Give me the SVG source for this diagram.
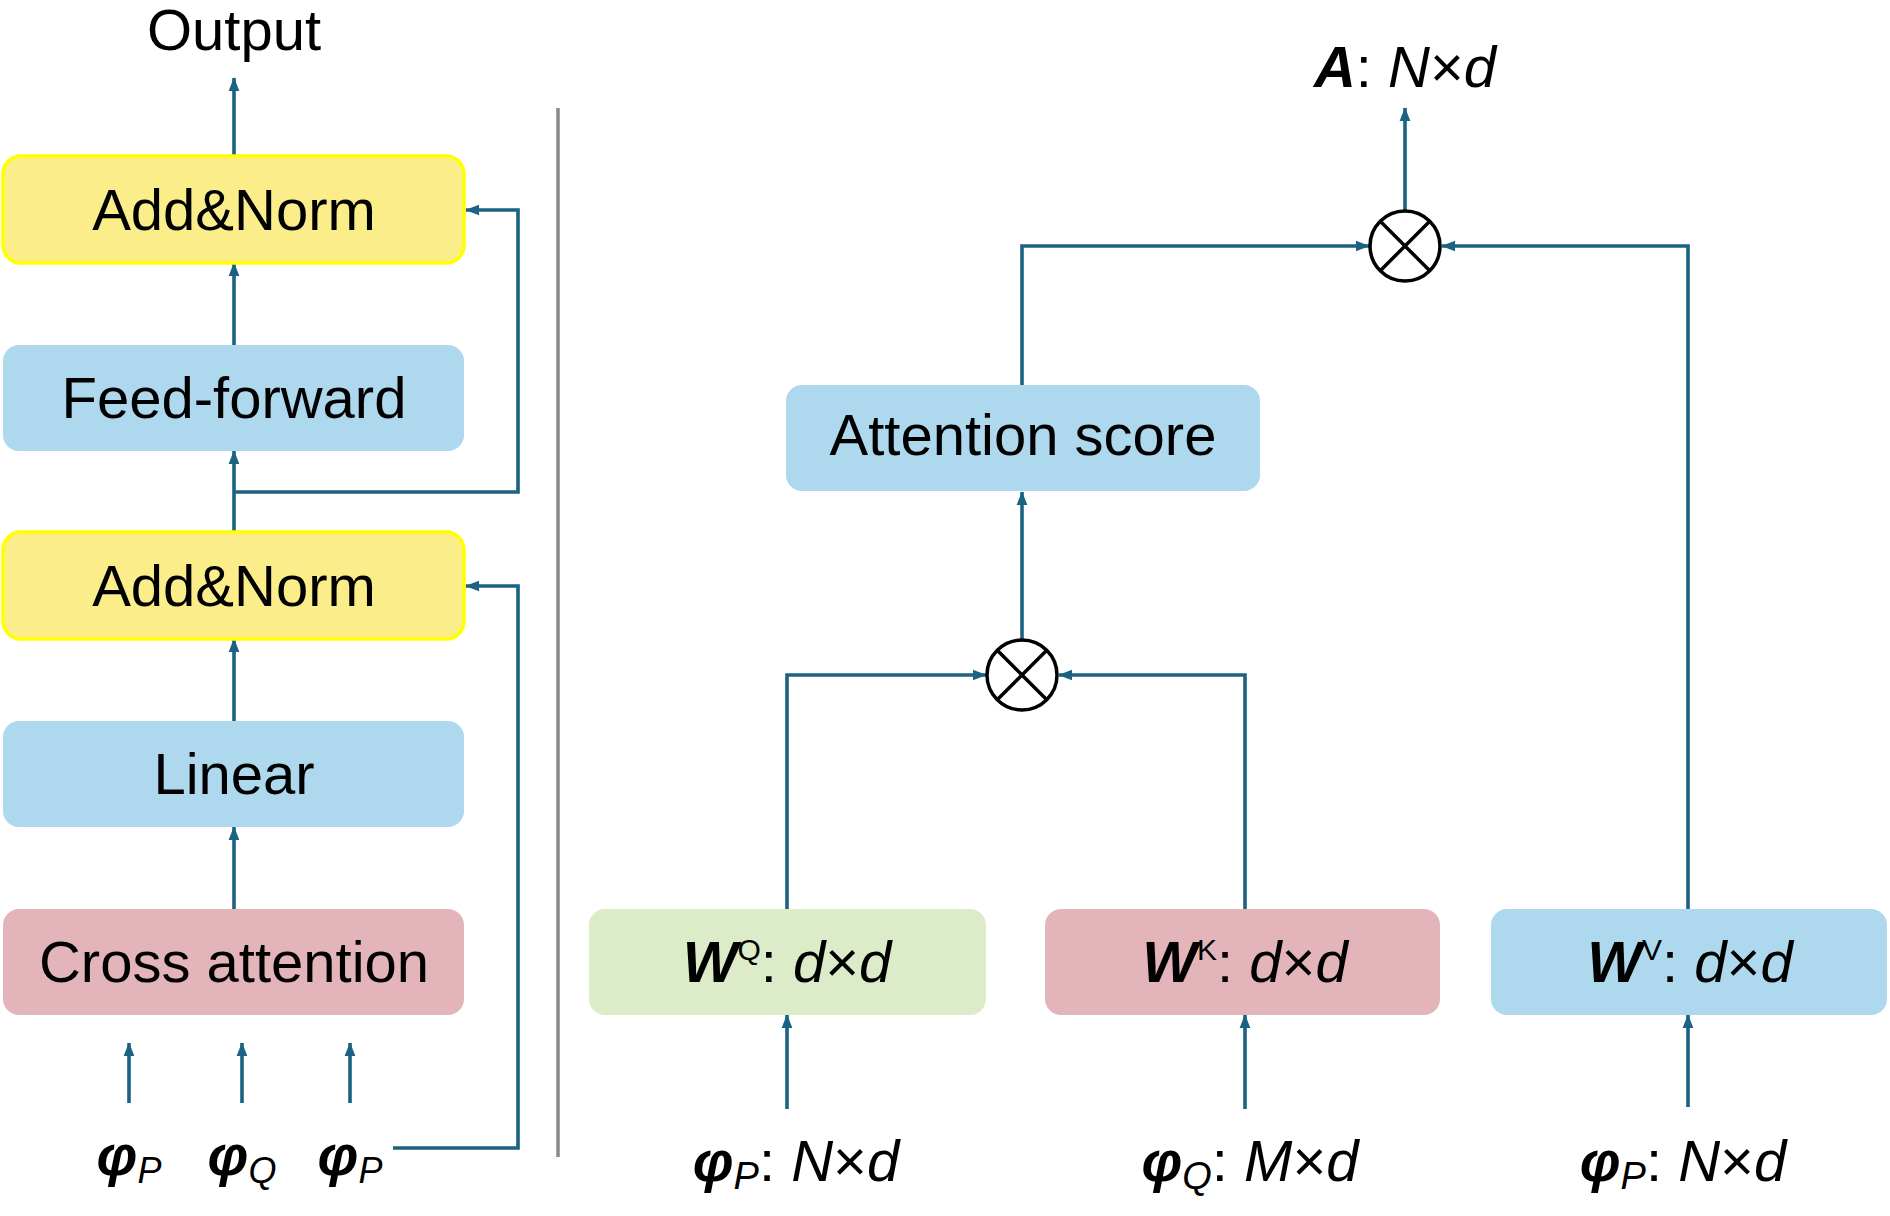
<svg xmlns="http://www.w3.org/2000/svg" width="1890" height="1216" viewBox="0 0 1890 1216">
<style>
text{font-family:"Liberation Sans",Arial,sans-serif;fill:#000}
.t{font-size:58px;text-anchor:middle}
.c{fill:none;stroke:#1b6283;stroke-width:3.6}
.y{fill:#fbee8a;stroke:#ffff00;stroke-width:3.5}
.b{fill:#add8ed}.p{fill:#e3b5bb}.g{fill:#dcebc8}
.o{fill:#fff;stroke:#000;stroke-width:3.5}
.bi{font-weight:bold;font-style:italic}.i{font-style:italic}
</style>
<defs>
<marker id="a" markerUnits="userSpaceOnUse" markerWidth="14" markerHeight="18" refX="17" refY="7" orient="auto" viewBox="0 0 18 14"><path d="M0,0L18,7L0,14z" fill="#1b6283"/></marker>
</defs>
<line x1="558" y1="108" x2="558" y2="1157" stroke="#8a8a8a" stroke-width="3.5"/>
<g id="connectors">
<path class="c" d="M234,155V78" marker-end="url(#a)"/>
<path class="c" d="M234,345V263" marker-end="url(#a)"/>
<path class="c" d="M234,532V451" marker-end="url(#a)"/>
<path class="c" d="M234,492H518V210H466" marker-end="url(#a)"/>
<path class="c" d="M234,721V639" marker-end="url(#a)"/>
<path class="c" d="M234,909V827" marker-end="url(#a)"/>
<path class="c" d="M393,1148H518V586H466" marker-end="url(#a)"/>
<path class="c" d="M129,1103V1043" marker-end="url(#a)"/>
<path class="c" d="M242,1103V1043" marker-end="url(#a)"/>
<path class="c" d="M350,1103V1043" marker-end="url(#a)"/>
<path class="c" d="M1405,210V108" marker-end="url(#a)"/>
<path class="c" d="M1022,385V246H1369" marker-end="url(#a)"/>
<path class="c" d="M1688,909V246H1442" marker-end="url(#a)"/>
<path class="c" d="M1022,639V492" marker-end="url(#a)"/>
<path class="c" d="M787,909V675H986" marker-end="url(#a)"/>
<path class="c" d="M1245,909V675H1059" marker-end="url(#a)"/>
<path class="c" d="M787,1109V1015" marker-end="url(#a)"/>
<path class="c" d="M1245,1109V1015" marker-end="url(#a)"/>
<path class="c" d="M1688,1107V1015" marker-end="url(#a)"/>
</g>
<g id="output"><text class="t" x="234" y="50" font-size="56">Output</text></g>
<g id="addnorm2"><rect class="y" x="3" y="156" width="461" height="107" rx="18"/><text class="t" x="234" y="230">Add&amp;Norm</text></g>
<g id="feedforward"><rect class="b" x="3" y="345" width="461" height="106" rx="16"/><text class="t" x="234" y="418">Feed-forward</text></g>
<g id="addnorm1"><rect class="y" x="3" y="532" width="461" height="107" rx="18"/><text class="t" x="234" y="606">Add&amp;Norm</text></g>
<g id="linear"><rect class="b" x="3" y="721" width="461" height="106" rx="16"/><text class="t" x="234" y="794">Linear</text></g>
<g id="cross"><rect class="p" x="3" y="909" width="461" height="106" rx="16"/><text class="t" x="234" y="982">Cross attention</text></g>
<g id="in1"><text class="t" x="129" y="1175" font-size="52"><tspan class="bi">φ</tspan><tspan class="i" font-size="36" dy="8">P</tspan></text></g>
<g id="in2"><text class="t" x="242" y="1175" font-size="52"><tspan class="bi">φ</tspan><tspan class="i" font-size="36" dy="8">Q</tspan></text></g>
<g id="in3"><text class="t" x="350" y="1175" font-size="52"><tspan class="bi">φ</tspan><tspan class="i" font-size="36" dy="8">P</tspan></text></g>
<g id="A"><text class="t" x="1405" y="87" font-size="56"><tspan class="bi">A</tspan>: <tspan class="i">N</tspan>×<tspan class="i">d</tspan></text></g>
<g id="mul2"><circle class="o" cx="1405" cy="246" r="35"/><path d="M1380,221L1430,271M1430,221L1380,271" stroke="#000" stroke-width="3.5"/></g>
<g id="score"><rect class="b" x="786" y="385" width="474" height="106" rx="16"/><text class="t" x="1023" y="455">Attention score</text></g>
<g id="mul1"><circle class="o" cx="1022" cy="675" r="35"/><path d="M997,650L1047,700M1047,650L997,700" stroke="#000" stroke-width="3.5"/></g>
<g id="wq"><rect class="g" x="589" y="909" width="397" height="106" rx="16"/><text class="t" x="787" y="982" font-size="56"><tspan class="bi">W</tspan><tspan font-size="30" dy="-22">Q</tspan><tspan dy="22">: </tspan><tspan class="i">d</tspan>×<tspan class="i">d</tspan></text></g>
<g id="wk"><rect class="p" x="1045" y="909" width="395" height="106" rx="16"/><text class="t" x="1245" y="982" font-size="56"><tspan class="bi">W</tspan><tspan font-size="30" dy="-22">K</tspan><tspan dy="22">: </tspan><tspan class="i">d</tspan>×<tspan class="i">d</tspan></text></g>
<g id="wv"><rect class="b" x="1491" y="909" width="396" height="106" rx="16"/><text class="t" x="1690" y="982" font-size="56"><tspan class="bi">W</tspan><tspan font-size="30" dy="-22">V</tspan><tspan dy="22">: </tspan><tspan class="i">d</tspan>×<tspan class="i">d</tspan></text></g>
<g id="lp1"><text class="t" x="796" y="1181" font-size="56"><tspan class="bi">φ</tspan><tspan class="i" font-size="38" dy="8">P</tspan><tspan dy="-8">: </tspan><tspan class="i">N</tspan>×<tspan class="i">d</tspan></text></g>
<g id="lq"><text class="t" x="1250" y="1181" font-size="56"><tspan class="bi">φ</tspan><tspan class="i" font-size="38" dy="8">Q</tspan><tspan dy="-8">: </tspan><tspan class="i">M</tspan>×<tspan class="i">d</tspan></text></g>
<g id="lp2"><text class="t" x="1683" y="1181" font-size="56"><tspan class="bi">φ</tspan><tspan class="i" font-size="38" dy="8">P</tspan><tspan dy="-8">: </tspan><tspan class="i">N</tspan>×<tspan class="i">d</tspan></text></g>
</svg>
